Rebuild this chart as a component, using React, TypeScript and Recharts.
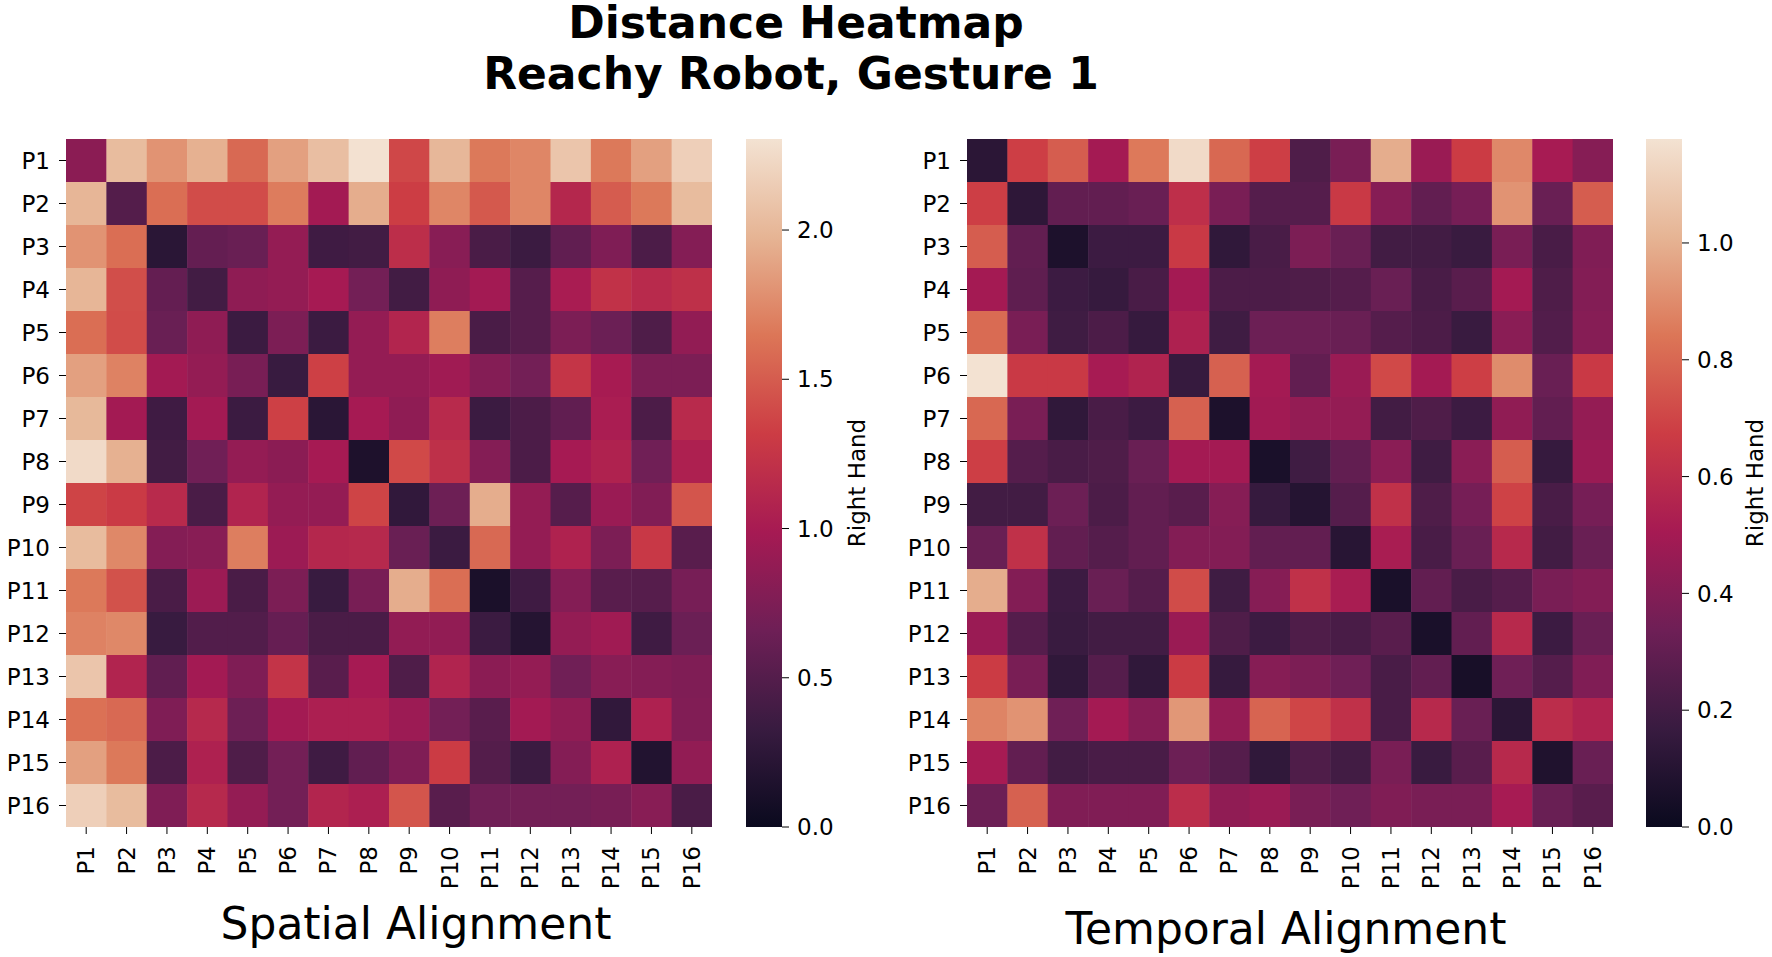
import React from 'react';
import { ScatterChart, Scatter, XAxis, YAxis, BarChart, Bar } from 'recharts';

const participants = ['P1', 'P2', 'P3', 'P4', 'P5', 'P6', 'P7', 'P8', 'P9', 'P10', 'P11', 'P12', 'P13', 'P14', 'P15', 'P16'];

// rows = P1..P16 (top to bottom), columns = P1..P16
const spatial: number[][] = [
  [0.83, 2.03, 1.80, 1.96, 1.57, 1.87, 2.05, 2.30, 1.38, 2.00, 1.66, 1.73, 2.10, 1.66, 1.87, 2.17],
  [1.99, 0.50, 1.60, 1.41, 1.41, 1.68, 0.97, 1.94, 1.32, 1.73, 1.48, 1.73, 1.11, 1.50, 1.66, 2.03],
  [1.80, 1.60, 0.23, 0.60, 0.63, 0.88, 0.37, 0.39, 1.18, 0.81, 0.44, 0.35, 0.58, 0.76, 0.45, 0.79],
  [1.99, 1.42, 0.60, 0.39, 0.85, 0.88, 0.99, 0.69, 0.39, 0.85, 0.97, 0.51, 1.01, 1.22, 1.14, 1.20],
  [1.60, 1.41, 0.63, 0.85, 0.35, 0.74, 0.35, 0.88, 1.09, 1.69, 0.44, 0.51, 0.74, 0.64, 0.47, 0.87],
  [1.87, 1.71, 0.97, 0.88, 0.72, 0.33, 1.34, 0.88, 0.88, 0.95, 0.79, 0.69, 1.25, 1.00, 0.74, 0.74],
  [2.01, 0.97, 0.37, 0.97, 0.35, 1.34, 0.23, 0.99, 0.85, 1.14, 0.35, 0.45, 0.58, 1.02, 0.45, 1.14],
  [2.25, 1.96, 0.39, 0.67, 0.88, 0.83, 0.99, 0.14, 1.39, 1.20, 0.79, 0.45, 0.99, 1.07, 0.67, 1.05],
  [1.36, 1.30, 1.14, 0.44, 1.08, 0.88, 0.88, 1.36, 0.28, 0.65, 1.94, 0.88, 0.51, 0.92, 0.77, 1.46],
  [2.03, 1.74, 0.79, 0.81, 1.69, 0.93, 1.11, 1.13, 0.63, 0.35, 1.57, 0.88, 1.07, 0.74, 1.28, 0.53],
  [1.66, 1.44, 0.44, 0.93, 0.44, 0.74, 0.33, 0.72, 1.94, 1.60, 0.12, 0.37, 0.79, 0.53, 0.51, 0.71],
  [1.71, 1.74, 0.33, 0.49, 0.49, 0.61, 0.44, 0.44, 0.87, 0.87, 0.35, 0.19, 0.88, 0.95, 0.37, 0.64],
  [2.10, 1.08, 0.58, 0.97, 0.76, 1.24, 0.53, 0.99, 0.47, 1.08, 0.83, 0.88, 0.67, 0.81, 0.79, 0.76],
  [1.62, 1.57, 0.76, 1.13, 0.65, 0.97, 1.04, 1.04, 0.93, 0.69, 0.53, 0.97, 0.86, 0.28, 1.06, 0.77],
  [1.87, 1.66, 0.45, 1.06, 0.47, 0.69, 0.37, 0.58, 0.76, 1.31, 0.50, 0.35, 0.79, 1.06, 0.17, 0.87],
  [2.17, 2.03, 0.76, 1.13, 0.88, 0.69, 1.09, 1.04, 1.46, 0.53, 0.67, 0.69, 0.69, 0.72, 0.81, 0.44],
];

const temporal: number[][] = [
  [0.12, 0.68, 0.77, 0.50, 0.85, 1.15, 0.80, 0.68, 0.24, 0.37, 0.99, 0.47, 0.67, 0.89, 0.51, 0.41],
  [0.68, 0.13, 0.30, 0.30, 0.32, 0.61, 0.37, 0.26, 0.26, 0.66, 0.41, 0.30, 0.36, 0.92, 0.32, 0.77],
  [0.77, 0.30, 0.07, 0.18, 0.18, 0.66, 0.14, 0.22, 0.38, 0.32, 0.20, 0.20, 0.17, 0.37, 0.22, 0.39],
  [0.50, 0.29, 0.18, 0.16, 0.22, 0.50, 0.23, 0.23, 0.24, 0.26, 0.32, 0.22, 0.27, 0.50, 0.24, 0.40],
  [0.81, 0.37, 0.19, 0.23, 0.16, 0.54, 0.19, 0.33, 0.33, 0.32, 0.26, 0.23, 0.17, 0.42, 0.25, 0.41],
  [1.178, 0.66, 0.66, 0.51, 0.55, 0.16, 0.78, 0.50, 0.30, 0.47, 0.71, 0.50, 0.68, 0.90, 0.32, 0.66],
  [0.80, 0.37, 0.14, 0.22, 0.18, 0.78, 0.07, 0.49, 0.45, 0.45, 0.20, 0.24, 0.18, 0.44, 0.30, 0.45],
  [0.68, 0.26, 0.22, 0.24, 0.32, 0.50, 0.50, 0.06, 0.19, 0.30, 0.42, 0.19, 0.42, 0.77, 0.16, 0.47],
  [0.20, 0.20, 0.33, 0.23, 0.30, 0.27, 0.41, 0.16, 0.10, 0.26, 0.62, 0.24, 0.36, 0.69, 0.22, 0.36],
  [0.32, 0.62, 0.30, 0.26, 0.30, 0.40, 0.40, 0.30, 0.30, 0.11, 0.52, 0.22, 0.32, 0.58, 0.20, 0.32],
  [0.99, 0.40, 0.18, 0.32, 0.26, 0.72, 0.19, 0.41, 0.62, 0.52, 0.06, 0.30, 0.22, 0.26, 0.37, 0.40],
  [0.47, 0.26, 0.17, 0.20, 0.20, 0.47, 0.24, 0.18, 0.24, 0.22, 0.27, 0.06, 0.30, 0.58, 0.18, 0.32],
  [0.67, 0.37, 0.14, 0.26, 0.14, 0.67, 0.16, 0.41, 0.38, 0.34, 0.22, 0.30, 0.05, 0.34, 0.26, 0.39],
  [0.88, 0.92, 0.34, 0.50, 0.41, 0.93, 0.45, 0.79, 0.70, 0.62, 0.22, 0.58, 0.32, 0.12, 0.60, 0.55],
  [0.51, 0.30, 0.20, 0.22, 0.22, 0.33, 0.26, 0.14, 0.24, 0.20, 0.37, 0.17, 0.27, 0.58, 0.08, 0.32],
  [0.33, 0.78, 0.39, 0.39, 0.39, 0.60, 0.44, 0.47, 0.37, 0.34, 0.39, 0.37, 0.37, 0.51, 0.32, 0.27],
];

const spatialTicks = [0, 0.5, 1.0, 1.5, 2.0];
const temporalTicks = [0, 0.2, 0.4, 0.6, 0.8, 1.0];
const spatialMax = 2.305;
const temporalMax = 1.178;

// rocket-like colormap, toned to match the reference picture, stops at i/7
const rocket = ['#0a0a1e', '#381b40', '#6e1f56', '#a61a53', '#cc3c44', '#dc7657', '#e6b494', '#f3e2d2'];

const hexToRgb = (h: string) => [1, 3, 5].map((i) => parseInt(h.slice(i, i + 2), 16));

function rocketColor(t: number) {
  const tt = Math.max(0, Math.min(1, t));
  const pos = tt * (rocket.length - 1);
  const i = Math.min(rocket.length - 2, Math.floor(pos));
  const f = pos - i;
  const a = hexToRgb(rocket[i]);
  const b = hexToRgb(rocket[i + 1]);
  const c = a.map((v, k) => Math.round(v + (b[k] - v) * f));
  return `rgb(${c[0]},${c[1]},${c[2]})`;
}

const FONT = 'DejaVu Sans';
const PLOT_W = 646;
const PLOT_H = 688;
const TOP = 139;
const H = 957;
const cellTicks = participants.map((_, i) => i + 0.5);

const XTick = (props: any) => {
  const { x, y, payload } = props;
  return (
    <text
      x={x}
      y={y}
      transform={`rotate(-90 ${x} ${y})`}
      textAnchor="end"
      dy="0.35em"
      fontSize={23}
      fontFamily={FONT}
      fill="#000"
    >
      {participants[Math.floor(payload.value)]}
    </text>
  );
};

function Heatmap({ matrix, vmax, left }: { matrix: number[][]; vmax: number; left: number }) {
  const points = matrix.flatMap((row, r) => row.map((v, c) => ({ x: c + 0.5, y: r + 0.5, v })));
  const cw = PLOT_W / 16;
  const ch = PLOT_H / 16;
  return (
    <div style={{ position: 'absolute', left, top: 0 }}>
      <ScatterChart width={66 + PLOT_W} height={H} margin={{ top: TOP, right: 0, bottom: 0, left: 0 }}>
        <XAxis
          type="number"
          dataKey="x"
          domain={[0, 16]}
          ticks={cellTicks}
          interval={0}
          height={H - TOP - PLOT_H}
          axisLine={false}
          tickLine={{ stroke: '#000' }}
          tickSize={7}
          tickMargin={12}
          tick={<XTick />}
          allowDataOverflow
        />
        <YAxis
          type="number"
          dataKey="y"
          domain={[0, 16]}
          reversed
          ticks={cellTicks}
          interval={0}
          width={66}
          axisLine={false}
          tickLine={{ stroke: '#000' }}
          tickSize={7}
          tickMargin={9}
          tickFormatter={(v: number) => participants[Math.floor(v)]}
          tick={{ fill: '#000', fontSize: 23, fontFamily: FONT }}
          allowDataOverflow
        />
        <Scatter
          data={points}
          isAnimationActive={false}
          shape={(p: any) => (
            <rect
              x={p.cx - cw / 2}
              y={p.cy - ch / 2}
              width={cw + 0.5}
              height={ch + 0.5}
              fill={rocketColor(p.payload.v / vmax)}
            />
          )}
        />
      </ScatterChart>
    </div>
  );
}

function Colorbar({ vmax, ticks, left, id }: { vmax: number; ticks: number[]; left: number; id: string }) {
  return (
    <div style={{ position: 'absolute', left, top: 0 }}>
      <BarChart
        width={136}
        height={H}
        data={[{ name: 'cb', v: vmax }]}
        margin={{ top: TOP, right: 0, bottom: H - TOP - PLOT_H, left: 0 }}
        barCategoryGap={0}
      >
        <defs>
          <linearGradient id={id} x1="0" y1="1" x2="0" y2="0">
            {rocket.map((c, i) => (
              <stop key={i} offset={i / (rocket.length - 1)} stopColor={c} />
            ))}
          </linearGradient>
        </defs>
        <XAxis dataKey="name" hide />
        <YAxis
          orientation="right"
          type="number"
          domain={[0, vmax]}
          ticks={ticks}
          interval={0}
          width={100}
          axisLine={false}
          tickLine={{ stroke: '#000' }}
          tickSize={7}
          tickMargin={8}
          tickFormatter={(v: number) => v.toFixed(1)}
          tick={{ fill: '#000', fontSize: 23, fontFamily: FONT }}
          allowDataOverflow
        />
        <Bar dataKey="v" fill={`url(#${id})`} isAnimationActive={false} />
      </BarChart>
    </div>
  );
}

export default function App() {
  return (
    <div style={{ position: 'absolute', left: 0, top: 0, width: 1772, height: H, background: '#fff', fontFamily: FONT }}>
      <Heatmap matrix={spatial} vmax={spatialMax} left={0} />
      <Colorbar vmax={spatialMax} ticks={spatialTicks} left={746} id="cbSpatial" />
      <Heatmap matrix={temporal} vmax={temporalMax} left={901} />
      <Colorbar vmax={temporalMax} ticks={temporalTicks} left={1646} id="cbTemporal" />
      <svg width={1772} height={H} style={{ position: 'absolute', left: 0, top: 0, pointerEvents: 'none' }}>
        <text x={796} y={38} textAnchor="middle" fontSize={44} fontWeight="bold" fontFamily={FONT} fill="#000">
          Distance Heatmap
        </text>
        <text x={791} y={89} textAnchor="middle" fontSize={44} fontWeight="bold" fontFamily={FONT} fill="#000">
          Reachy Robot, Gesture 1
        </text>
        <text x={416} y={939} textAnchor="middle" fontSize={44} fontFamily={FONT} fill="#000">
          Spatial Alignment
        </text>
        <text x={1286} y={944} textAnchor="middle" fontSize={44} fontFamily={FONT} fill="#000">
          Temporal Alignment
        </text>
        <text x={857} y={483} transform="rotate(-90 857 483)" textAnchor="middle" dy="0.35em" fontSize={23} fontFamily={FONT} fill="#000">
          Right Hand
        </text>
        <text x={1755} y={483} transform="rotate(-90 1755 483)" textAnchor="middle" dy="0.35em" fontSize={23} fontFamily={FONT} fill="#000">
          Right Hand
        </text>
      </svg>
    </div>
  );
}
